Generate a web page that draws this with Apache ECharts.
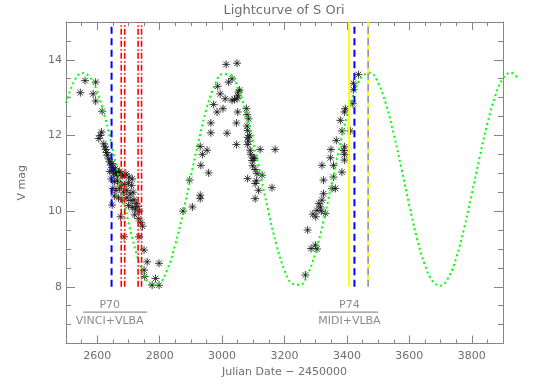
<!DOCTYPE html>
<html><head><meta charset="utf-8">
<script src="https://cdn.jsdelivr.net/npm/echarts@6/dist/echarts.min.js"></script>
<style>html,body{margin:0;padding:0;background:#fff}#c{width:540px;height:386px}</style>
</head><body><div id="c"></div>
<script>
// Observed V magnitudes (Julian Date - 2450000)
const obsJD = [
 2546,2561,2587,2595,2595,2616,2614,2605,2610,
 2621,2625,2627,2630,2632,2637,2640,2644,2648,2650,2653,2658,2664,2672,2686,2702,
 2640,2652,2660,2668,2680,2692,2712,2645,2655,2665,2675,2688,2700,2710,
 2650,2660,2672,2684,2695,2705,2715,2655,2668,2680,2695,2708,2718,2725,
 2648,2700,2712,2722,2730,2735,2675,2720,2733,2740,2745,2686,2734,
 2750,2760,2798,2750,2752,2787,2776,2798,
 2875,2896,2905,2930,2930,2932,2930,2937,2952,2957,2964,2964,2973,2984,2986,2994,
 3003,3010,3013,3016,3021,3032,3032,3040,3046,3046,3048,3048,3050,3053,3056,3050,
 3078,3082,3082,3082,3085,3080,3080,3088,3084,3090,3092,3096,3100,3104,3098,3106,
 3112,3082,3106,3110,3117,3122,3128,3160,3170,3106,
 3267,3274,3285,3291,3299,3304,3304,3315,3320,3325,3331,3320,3325,3347,3349,3352,
 3357,3357,3363,3366,3379,3384,3384,3392,3395,3392,3392,3392,3390,3411,3419,3421,
 3421,3437,3310,3318,3300
];
const obsMag = [
 13.13,13.45,13.10,13.41,12.91,12.64,12.09,11.92,12.00,
 11.78,11.70,11.63,11.55,11.48,11.38,11.30,11.22,11.26,11.15,11.08,11.12,10.99,11.05,10.95,10.90,
 11.05,11.00,10.95,11.02,10.93,10.98,10.85,10.85,10.78,10.80,10.72,10.70,10.75,10.68,
 10.60,10.55,10.60,10.50,10.55,10.45,10.50,10.40,10.35,10.30,10.35,10.28,10.30,10.20,
 10.16,10.15,10.10,10.05,10.12,10.00,9.85,9.90,9.80,9.70,9.60,9.32,9.32,
 8.97,8.66,8.62,8.44,8.27,8.22,8.04,8.04,
 10.00,10.82,10.11,10.42,10.33,11.21,11.71,11.50,11.61,11.01,12.33,12.07,12.82,12.62,13.30,13.10,
 12.71,12.97,13.88,12.06,13.41,13.50,12.93,12.95,12.33,11.76,12.97,13.91,12.62,13.15,13.20,13.05,
 12.71,12.13,11.95,11.76,12.44,12.55,12.25,12.00,11.85,11.61,11.50,11.34,11.40,11.40,11.20,11.10,
 10.99,10.86,10.73,10.80,10.55,11.63,10.95,10.62,11.63,10.33,
 8.31,9.50,9.01,9.92,9.10,9.00,10.02,10.11,10.29,10.46,9.94,11.21,10.82,11.41,11.63,10.60,
 11.21,10.90,10.60,11.87,12.40,12.12,11.03,12.62,12.71,11.70,11.50,11.35,11.60,12.12,12.84,13.38,
 13.21,13.61,10.20,10.00,9.85
];
// Green dotted model curve, read at 25-day steps
const curveJD = [2500,2525,2550,2575,2600,2625,2650,2675,2700,2725,2750,2775,2800,2825,2850,2875,2900,2925,2950,2975,
 3000,3025,3050,3075,3100,3125,3150,3175,3200,3225,3250,3275,3300,3325,3350,3375,3400,3425,3450,3475,
 3500,3525,3550,3575,3600,3625,3650,3675,3700,3725,3750,3775,3800,3825,3850,3875,3900,3925,3950];
const curveMag = [12.86,13.41,13.65,13.56,13.16,12.48,11.61,10.65,9.71,8.90,8.32,8.04,8.09,8.46,9.11,9.96,10.92,11.86,12.70,13.30,
 13.62,13.61,13.28,12.66,11.83,10.88,9.93,9.08,8.44,8.08,8.05,8.34,8.93,9.74,10.68,11.65,12.51,13.18,13.57,13.65,
 13.39,12.83,12.04,11.11,10.15,9.26,8.57,8.14,8.03,8.24,8.76,9.53,10.45,11.42,12.32,13.04,13.51,13.66,13.48];
// Observation epoch markers
const blueLines = [2646, 3424];
const redLines = [2677, 2688, 2731, 2742];
const yellowLines = [3407, 3468];
const markerSpan = [8, 15];
// Axis ticks
const xMajorTicks = [2600, 2800, 3000, 3200, 3400, 3600, 3800];
const xMinorTicks = [2550,2650,2700,2750,2850,2900,2950,3050,3100,3150,3250,3300,3350,3450,3500,3550,3650,3700,3750,3850];
const yMajorTicks = [8, 10, 12, 14];
const yMinorTicks = [7, 7.5, 8.5, 9, 9.5, 10.5, 11, 11.5, 12.5, 13, 13.5, 14.5];
// Annotation labels
const annoTop = ['P70', 'P74'];
const annoBottom = ['VINCI+VLBA', 'MIDI+VLBA'];
const annoCenter = [2640, 3408];
const annoRange = [[2555, 2760], [3312, 3500]];

const X0 = 2500, X1 = 3900, Y0 = 6.5, Y1 = 15;
const XC1 = 3950; // model curve runs past the frame
const GRAY = '#858585', TXT = '#6e6e6e', FONT = 'DejaVu Sans';
const gridBox = {left: 66, top: 22, width: 437, height: 321.5};
const curveBox = {left: 66, top: 22, width: 437 * (XC1 - X0) / (X1 - X0), height: 321.5};

function xAx(gi, pos, ticks, len, main) {
  return {type:'value', gridIndex:gi, position:pos, min:X0, max:X1,
    axisLine:{show:main, lineStyle:{color:GRAY, width:1}},
    axisTick:{show:true, inside:true, length:len, customValues:ticks, lineStyle:{color:GRAY}},
    axisLabel:{show: main && pos==='bottom', customValues:ticks, formatter: v => String(v), color:TXT, fontFamily:FONT, fontSize:11, margin:7},
    splitLine:{show:false},
    name: (main && pos==='bottom') ? 'Julian Date \u2212 2450000' : '',
    nameLocation:'middle', nameGap:23, nameTextStyle:{color:TXT, fontFamily:FONT, fontSize:11}};
}
function yAx(gi, pos, ticks, len, main) {
  return {type:'value', gridIndex:gi, position:pos, min:Y0, max:Y1,
    axisLine:{show:main, lineStyle:{color:GRAY, width:1}},
    axisTick:{show:true, inside:true, length:len, customValues:ticks, lineStyle:{color:GRAY}},
    axisLabel:{show: main && pos==='left', customValues:ticks, formatter: v => String(v), color:TXT, fontFamily:FONT, fontSize:11, margin:4},
    splitLine:{show:false},
    name: (main && pos==='left') ? 'V mag' : '',
    nameLocation:'middle', nameGap:38, nameTextStyle:{color:TXT, fontFamily:FONT, fontSize:11}};
}
const hiddenX = {type:'value', gridIndex:4, min:X0, max:XC1, show:false};
const hiddenY = {type:'value', gridIndex:4, min:Y0, max:Y1, show:false};

const series = [];
series.push({type:'scatter', xAxisIndex:0, yAxisIndex:0, silent:true,
  data: obsJD.map((x,i)=>[x, obsMag[i]]),
  symbol:'path://M5 0L5 10M0 5L10 5M1.5 1.5L8.5 8.5M8.5 1.5L1.5 8.5', symbolSize:8,
  itemStyle:{color:'transparent', borderColor:'#111', borderWidth:1}, z:2});
series.push({type:'line', xAxisIndex:4, yAxisIndex:4, silent:true, clip:false,
  data: curveJD.map((x,i)=>[x, curveMag[i]]), smooth:0.4, symbol:'none',
  lineStyle:{color:'#00ff00', width:2, type:[2,3]}, z:3});
function vline(x, style) {
  series.push({type:'line', xAxisIndex:0, yAxisIndex:0, silent:true, symbol:'none',
    data:[[x, markerSpan[0]], [x, markerSpan[1]]], lineStyle:style, z:4});
}
yellowLines.forEach(x => vline(x, {color:'#ffff00', width:2, type:'solid'}));
vline(yellowLines[1], {color:'#8a8ad0', width:1.5, type:[7,4.5]});
blueLines.forEach(x => vline(x, {color:'#0000ff', width:2, type:[7,4.5]}));
redLines.forEach(x => vline(x, {color:'#ff0000', width:1.6, type:[6,2,1.5,2.5]}));
// annotations
annoTop.forEach((t,i) => {
  series.push({type:'scatter', xAxisIndex:0, yAxisIndex:0, silent:true, symbolSize:0,
    data:[{value:[annoCenter[i], 7.52], label:{formatter:t}}, {value:[annoCenter[i], 7.10], label:{formatter:annoBottom[i]}}],
    label:{show:true, position:'inside', color:TXT, fontFamily:FONT, fontSize:11}, z:5});
  series.push({type:'line', xAxisIndex:0, yAxisIndex:0, silent:true, symbol:'none',
    data:[[annoRange[i][0], 7.33], [annoRange[i][1], 7.33]], lineStyle:{color:'#777', width:1}, z:5});
});

const chart = echarts.init(document.getElementById('c'), null, {renderer:'canvas'});
chart.setOption({
  animation:false,
  backgroundColor:'#fff',
  grid:[gridBox, gridBox, gridBox, gridBox, curveBox].map(g => Object.assign({containLabel:false}, g)),
  xAxis:[xAx(0,'bottom',xMajorTicks,8,true), xAx(1,'top',xMajorTicks,8,true), xAx(2,'bottom',xMinorTicks,4,false), xAx(3,'top',xMinorTicks,4,false), hiddenX],
  yAxis:[yAx(0,'left',yMajorTicks,9,true), yAx(1,'right',yMajorTicks,9,true), yAx(2,'left',yMinorTicks,5,false), yAx(3,'right',yMinorTicks,5,false), hiddenY],
  graphic:[{type:'text', x:284, y:11, style:{text:'Lightcurve of S Ori', fill:TXT, font:'13px "DejaVu Sans"', textAlign:'center', textVerticalAlign:'middle'}}],
  series: series
});
</script></body></html>
